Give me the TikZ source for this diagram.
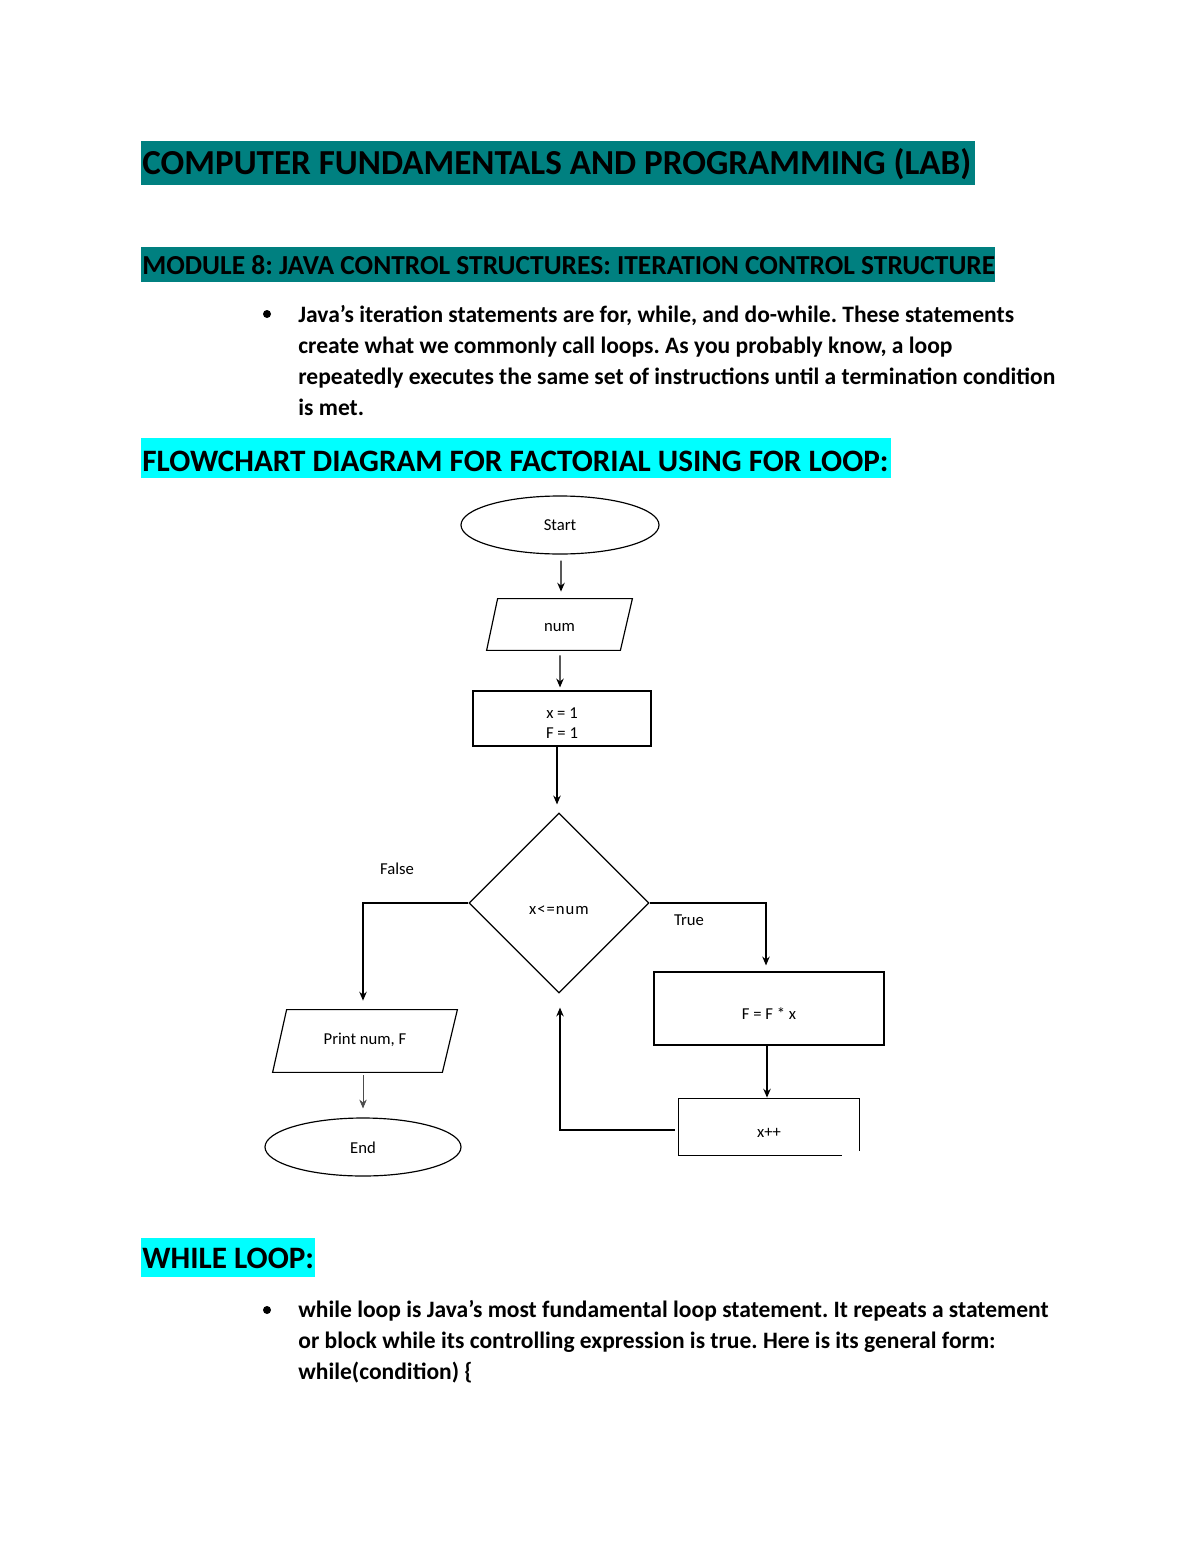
\documentclass[tikz,border=0pt]{standalone}
\usepackage{fontspec}
\setmainfont{Carlito}
\usetikzlibrary{shapes.geometric,calc,arrows.meta}
\newcommand\pxu{0.51pt}
\newcommand\lowered[2]{\smash{\raisebox{-#1}{#2}}}
\definecolor{tealbar}{RGB}{0,128,128}
\definecolor{cyanbar}{RGB}{0,255,255}
\frenchspacing
\begin{document}
\begin{tikzpicture}[x=0.51pt,y=-0.51pt,
  txt/.style={inner sep=0pt,anchor=base west},
  flowtxt/.style={font=\fontsize{8.5}{10.2}\selectfont},
  arr/.style={line width=0.65pt,-{Stealth[length=4.5pt,width=3.8pt]}},
  thinarr/.style={line width=0.35pt,draw=black!70,-{Stealth[length=4.5pt,width=3.8pt]}},
  shp/.style={line width=0.6pt},
  term/.style={ellipse,draw,shp,inner sep=0pt,flowtxt},
  box/.style={rectangle,draw,shp,inner sep=0pt,flowtxt,align=center},
  hid/.style={rectangle,inner sep=0pt,flowtxt,align=center}]
\useasboundingbox[fill=white] (0,0) rectangle (1200,1553);

% header bars
\fill[tealbar] (141,141) rectangle (975,185);
\node[txt,font=\fontsize{17.9}{21}\selectfont\bfseries] (title) at (142,174.5) {COMPUTER FUNDAMENTALS AND PROGRAMMING (LAB)};
\fill[tealbar] (141,247) rectangle (995,282);
\node[txt,font=\fontsize{14}{17}\selectfont\bfseries] (module) at (142,274) {MODULE 8: JAVA CONTROL STRUCTURES: ITERATION CONTROL STRUCTURE};

% bullet 1
\fill (267,314) circle (4);
\begin{scope}[every node/.append style={txt,font=\fontsize{12}{15}\selectfont\bfseries}]
\node (b1a) at (298,322) {Java’s iteration statements are for, while, and do-while. These statements};
\node (b1b) at (298,353) {create what we commonly call loops. As you probably know, a loop};
\node (b1c) at (298,384) {repeatedly executes the same set of instructions until a termination condition};
\node (b1d) at (298,415) {is met.};
\end{scope}

% flowchart heading
\fill[cyanbar] (141,438) rectangle (891,478);
\node[txt,font=\fontsize{15.9}{19}\selectfont\bfseries] (fchead) at (142,471) {FLOWCHART DIAGRAM FOR FACTORIAL USING FOR LOOP:};

% flowchart
\node[term,minimum width=198*\pxu,minimum height=58*\pxu] (start) at (560,525) {\lowered{2.8pt}{Start}};
\node[hid,minimum width=145*\pxu,minimum height=51*\pxu] (num) at (559.5,624.5) {\lowered{3.4pt}{num}};
\draw[shp] ($(num.north west)+(11,0)$) -- (num.north east) -- ($(num.south east)+(-12,0)$) -- (num.south west) -- cycle;
\node[box,minimum width=178*\pxu,minimum height=55*\pxu] (init) at (562,718.5) {\lowered{5.2pt}{\begin{tabular}{@{}c@{}}x = 1\\F = 1\end{tabular}}};
\node[diamond,draw,shp,inner sep=0pt,flowtxt,minimum width=180*\pxu,minimum height=180*\pxu] (dec) at (559,903) {\lowered{5.8pt}{\addfontfeature{LetterSpace=6}x<=num}};
\node[box,minimum width=230*\pxu,minimum height=73*\pxu] (mul) at (769,1008.5) {\lowered{5.8pt}{F = F * x}};
\node[hid,minimum width=180*\pxu,minimum height=56*\pxu] (inc) at (769,1127) {\lowered{5.1pt}{x++}};
\draw[shp] ($(inc.south west)+(163,0)$) -- (inc.south west) -- (inc.north west) -- (inc.north east) -- ($(inc.south east)+(0,-4)$);
\node[hid,minimum width=184*\pxu,minimum height=62*\pxu] (print) at (365,1041) {\lowered{2.0pt}{Print num, F}};
\draw[shp] ($(print.north west)+(14,0)$) -- (print.north east) -- ($(print.south east)+(-15,0)$) -- (print.south west) -- cycle;
\node[term,minimum width=196*\pxu,minimum height=58*\pxu] (end) at (363,1147) {\lowered{3.1pt}{End}};

\node[flowtxt,inner sep=0pt] (lfalse) at (397,869) {False};
\node[flowtxt,inner sep=0pt] (ltrue) at (689,920) {True};

\draw[arr] ($(start.south)+(1,6)$) -- ($(num.north)+(1.5,-7)$);
\draw[arr] ($(num.south)+(0.5,5)$) -- ($(init.north)+(-2,-3)$);
\draw[arr] ($(init.south)+(-5,0)$) -- ($(dec.north)+(-2,-8)$);
\draw[arr] (dec.west) -| ($(print.north)+(-2,-9)$);
\draw[arr] (dec.east) -| ($(mul.north)+(-3,-6)$);
\draw[arr] ($(mul.south)+(-2,0)$) -- ($(inc.north)+(-2,-1)$);
\draw[arr] ($(inc.west)+(-4,3)$) -| ($(dec.south)+(1,14)$);
\draw[thinarr] ($(print.south -| end.north)+(0,3)$) -- ($(end.north)+(0,-9)$);

% while heading
\fill[cyanbar] (141,1238) rectangle (315,1277);
\node[txt,font=\fontsize{15.9}{19}\selectfont\bfseries] (whead) at (142,1268) {WHILE LOOP:};

% bullet 2
\fill (267,1310) circle (4);
\begin{scope}[every node/.append style={txt,font=\fontsize{12}{15}\selectfont\bfseries}]
\node (b2a) at (298,1317) {while loop is Java’s most fundamental loop statement. It repeats a statement};
\node (b2b) at (298,1348) {or block while its controlling expression is true. Here is its general form:};
\node (b2c) at (298,1379) {while(condition) \{};
\end{scope}
\end{tikzpicture}
\end{document}
